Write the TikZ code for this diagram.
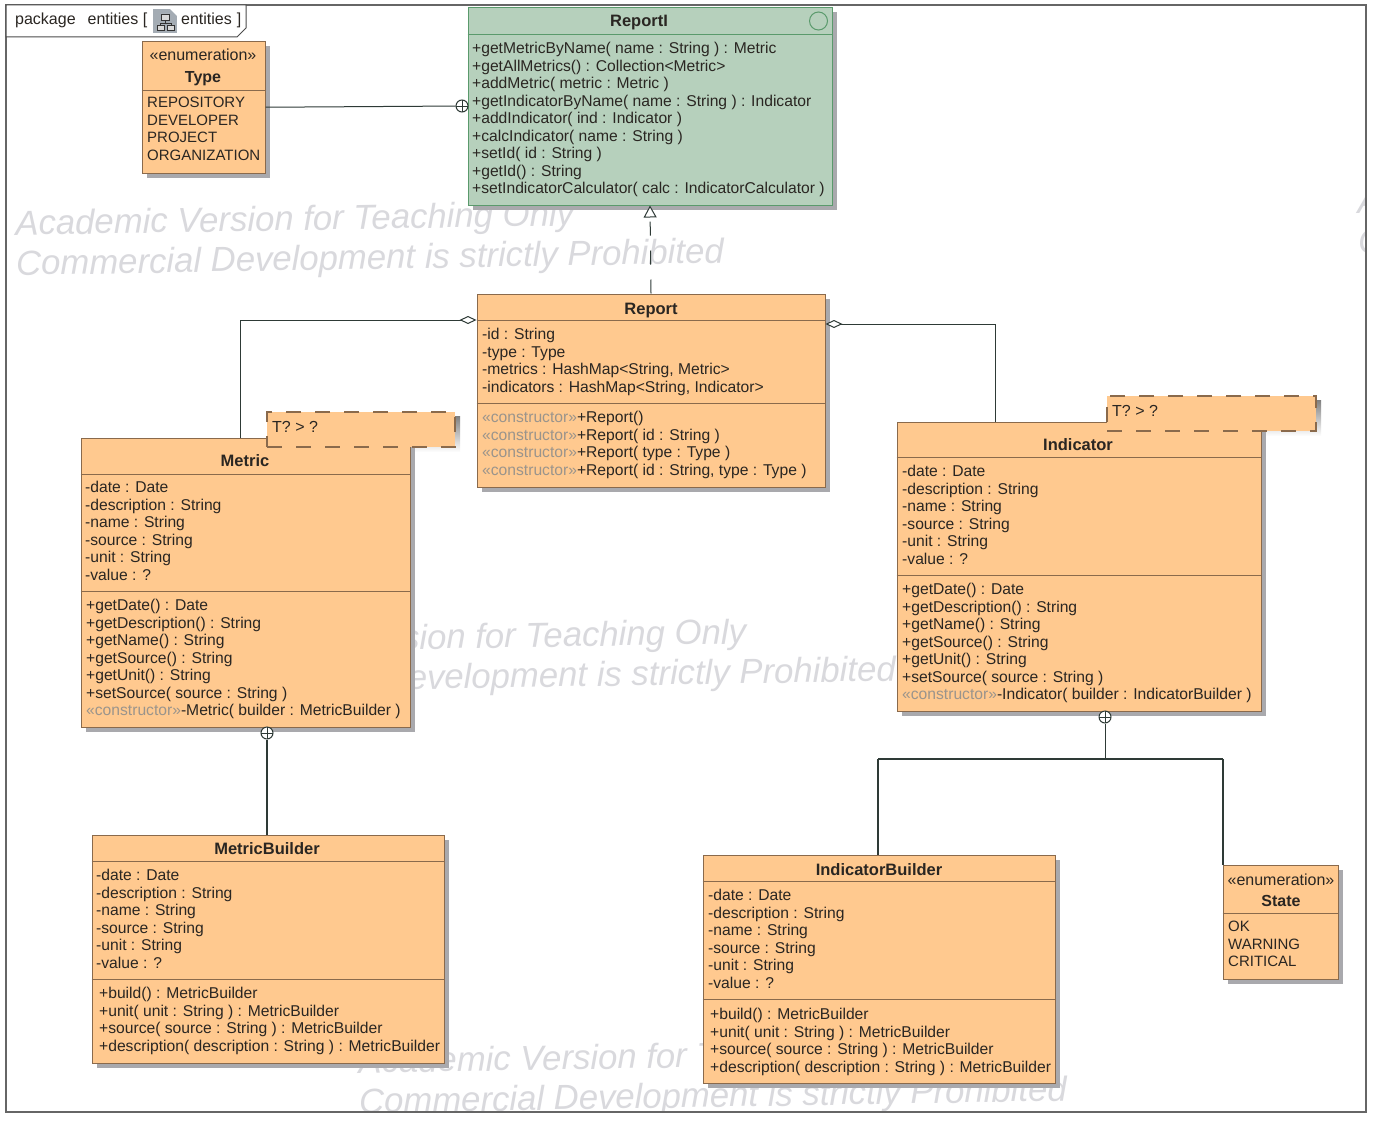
\documentclass[tikz,border=0pt]{standalone}
\usepackage{fontspec}
\setmainfont{Liberation Sans}
\usetikzlibrary{arrows.meta,shadows,calc}
\definecolor{boxfill}{HTML}{FFC98F}
\definecolor{boxline}{HTML}{8A6A4C}
\definecolor{greenfill}{HTML}{B6D0BC}
\definecolor{greenline}{HTML}{5A9A6C}
\definecolor{shade}{HTML}{A9A9AD}
\definecolor{wmark}{HTML}{D9D9DD}
\definecolor{ink}{HTML}{2A2622}
\definecolor{ctor}{HTML}{9A948C}
\definecolor{conn}{HTML}{2E3A36}
\definecolor{tile}{HTML}{A4ACB4}
\newcommand{\ct}{{\color{ctor}«constructor»}}
\tikzset{
 umlbox/.style={draw=boxline,line width=1pt,fill=boxfill,inner sep=0pt,
   drop shadow={shadow xshift=4.5pt,shadow yshift=-4.5pt,fill=shade,opacity=1}},
 greenbox/.style={umlbox,draw=greenline,fill=greenfill},
 divider/.style={draw=boxline,line width=.8pt},
 lines/.style={align=left,anchor=north west,inner sep=0pt,text=ink,
   font=\fontsize{15.65}{17.5}\selectfont,execute at begin node={\rule{0pt}{12pt}}},
 enumlines/.style={lines,font=\fontsize{15}{17.5}\selectfont},
 titletext/.style={anchor=base,inner sep=0pt,text=ink,font=\fontsize{16}{17.5}\selectfont},
 classname/.style={titletext,font=\fontsize{16.5}{17.5}\selectfont\bfseries},
 tmpl/.style={draw=boxline,line width=1.2pt,dash pattern=on 15pt off 14pt,fill=boxfill,inner sep=0pt},
 wm/.style={align=left,anchor=north west,inner sep=0pt,rotate=1,text=wmark,
   font=\fontsize{34.7}{40}\selectfont\itshape},
 conline/.style={draw=conn,line width=1pt},
 thickline/.style={draw=conn,line width=2.6pt},
 contain/.style={circle,draw=conn,line width=1pt,fill=white,minimum size=12pt,inner sep=0pt,
   path picture={\draw[conn,line width=.8pt] (path picture bounding box.north)--(path picture bounding box.south)
   (path picture bounding box.west)--(path picture bounding box.east);}},
}
\begin{document}
\begin{tikzpicture}[x=1pt,y=-1pt]
\useasboundingbox (0,0) rectangle (1375,1121);
\fill[white] (0,0) rectangle (1375,1121);
% watermarks
\begin{scope}
\clip (6,5) rectangle (1366,1112);
\node[wm] (wma) at (15,210) {Academic Version for Teaching Only\\Commercial Development is strictly Prohibited};
\node[wm] (wmb) at (187,628) {Academic Version for Teaching Only\\Commercial Development is strictly Prohibited};
\node[wm] (wmc) at (358,1048) {Academic Version for Teaching Only\\Commercial Development is strictly Prohibited};
\node[wm] (wmd) at (1357,188) {Academic Version for Teaching Only\\Commercial Development is strictly Prohibited};
\end{scope}
% frame
\draw[draw=black!60,line width=1.2pt] (6,5) rectangle (1366,1112);
\draw[draw=black!70,fill=white,line width=1pt] (6,5) -- (246,5) -- (246,28) -- (237,37) -- (6,37) -- cycle;
\node[titletext,anchor=base west] (pkga) at (15,25) {package\hspace{12pt}entities [};
\node[titletext,anchor=base west] (pkgb) at (181,25) {entities\hspace{5pt}]};
% package icon
\fill[tile] (153,9) rectangle (177,33);
\fill[white] (170,9) -- (177,9) -- (177,16) -- cycle;
\draw[black!80,line width=.8pt,fill=black!15] (161,14) rectangle (169,20) (157,25) rectangle (164,30) (167,25) rectangle (174,30);
\draw[black!80,line width=.8pt] (165,20) -- (165,23) (160,25) -- (160,23) -- (171,23) -- (171,25);
% shadows of the template compartments
\fill[shade] (271,416) rectangle (460,452);
\fill[shade] (1111,400) rectangle (1321,436);
% class boxes
\node[umlbox,minimum width=123pt,minimum height=131.5pt] (Type) at (203.5,107.25) {};
\node[greenbox,minimum width=364pt,minimum height=197pt] (ReportI) at (650,106.5) {};
\node[umlbox,minimum width=348pt,minimum height=193pt] (Report) at (651,390.5) {};
\node[umlbox,minimum width=329pt,minimum height=289pt] (Metric) at (245.5,582.5) {};
\node[umlbox,minimum width=364pt,minimum height=289pt] (Indicator) at (1079,566.5) {};
\node[umlbox,minimum width=352pt,minimum height=228pt] (MB) at (268,949) {};
\node[umlbox,minimum width=352pt,minimum height=228pt] (IB) at (879,969) {};
\node[umlbox,minimum width=115pt,minimum height=114pt] (State) at (1280.5,922) {};
\node[tmpl,minimum width=188pt,minimum height=35pt] (tm) at (361,429.5) {};
\node[tmpl,minimum width=209pt,minimum height=35pt] (ti) at (1211.5,413.5) {};
\node[titletext,anchor=base west] (tmt) at (272,432) {T? > ?};
\node[titletext,anchor=base west] (tit) at (1112,416) {T? > ?};
% dividers
\path[divider] (Type.west |- 0,90) -- (Type.east |- 0,90);
\path[draw=greenline,line width=.8pt] (ReportI.west |- 0,34) -- (ReportI.east |- 0,34);
\path[divider] (Report.west |- 0,320) -- (Report.east |- 0,320);
\path[divider] (Report.west |- 0,403) -- (Report.east |- 0,403);
\path[divider] (Metric.west |- 0,474) -- (Metric.east |- 0,474);
\path[divider] (Metric.west |- 0,591) -- (Metric.east |- 0,591);
\path[divider] (Indicator.west |- 0,457) -- (Indicator.east |- 0,457);
\path[divider] (Indicator.west |- 0,575) -- (Indicator.east |- 0,575);
\path[divider] (MB.west |- 0,861) -- (MB.east |- 0,861);
\path[divider] (MB.west |- 0,979) -- (MB.east |- 0,979);
\path[divider] (IB.west |- 0,881) -- (IB.east |- 0,881);
\path[divider] (IB.west |- 0,999) -- (IB.east |- 0,999);
\path[divider] (State.west |- 0,913) -- (State.east |- 0,913);
% titles
\node[titletext] (t1a) at (203,61) {«enumeration»};
\node[classname,font=\fontsize{16}{17.5}\selectfont\bfseries] (t1b) at (203,83) {Type};
\node[classname] (t2) at (639,27) {ReportI};
\node[circle,draw=greenline,line width=1pt,minimum size=18pt,inner sep=0pt] (ricon) at (818.5,21) {};
\node[classname] (t3) at (651,314) {Report};
\node[classname] (t4) at (245,466) {Metric};
\node[classname] (t5) at (1078,450) {Indicator};
\node[classname] (t6) at (267,854) {MetricBuilder};
\node[classname] (t7) at (879,875) {IndicatorBuilder};
\node[titletext] (t8a) at (1281,885) {«enumeration»};
\node[classname,font=\fontsize{16}{17.5}\selectfont\bfseries] (t8b) at (1281,906) {State};
% compartments
\node[enumlines] (a1) at (147,97) {REPOSITORY\\DEVELOPER\\PROJECT\\ORGANIZATION};
\node[lines] (a2) at (472,42) {+getMetricByName( name : String ) : Metric\\+getAllMetrics() : Collection<Metric>\\+addMetric( metric : Metric )\\+getIndicatorByName( name : String ) : Indicator\\+addIndicator( ind : Indicator )\\+calcIndicator( name : String )\\+setId( id : String )\\+getId() : String\\+setIndicatorCalculator( calc : IndicatorCalculator )};
\node[lines] (a3) at (482,328) {-id : String\\-type : Type\\-metrics : HashMap<String, Metric>\\-indicators : HashMap<String, Indicator>};
\node[lines] (o3) at (482,411) {\ct+Report()\\\ct+Report( id : String )\\\ct+Report( type : Type )\\\ct+Report( id : String, type : Type )};
\node[lines] (a4) at (85,481) {-date : Date\\-description : String\\-name : String\\-source : String\\-unit : String\\-value : ?};
\node[lines] (o4) at (86,599) {+getDate() : Date\\+getDescription() : String\\+getName() : String\\+getSource() : String\\+getUnit() : String\\+setSource( source : String )\\\ct-Metric( builder : MetricBuilder )};
\node[lines] (a5) at (902,465) {-date : Date\\-description : String\\-name : String\\-source : String\\-unit : String\\-value : ?};
\node[lines] (o5) at (902,583) {+getDate() : Date\\+getDescription() : String\\+getName() : String\\+getSource() : String\\+getUnit() : String\\+setSource( source : String )\\\ct-Indicator( builder : IndicatorBuilder )};
\node[lines] (a6) at (96,869) {-date : Date\\-description : String\\-name : String\\-source : String\\-unit : String\\-value : ?};
\node[lines] (o6) at (99,987) {+build() : MetricBuilder\\+unit( unit : String ) : MetricBuilder\\+source( source : String ) : MetricBuilder\\+description( description : String ) : MetricBuilder};
\node[lines] (a7) at (708,889) {-date : Date\\-description : String\\-name : String\\-source : String\\-unit : String\\-value : ?};
\node[lines] (o7) at (710,1008) {+build() : MetricBuilder\\+unit( unit : String ) : MetricBuilder\\+source( source : String ) : MetricBuilder\\+description( description : String ) : MetricBuilder};
\node[enumlines] (a8) at (1228,921) {OK\\WARNING\\CRITICAL};
% connectors
\node[contain] (c1) at (462,106) {};
\node[contain] (c2) at (267,733) {};
\node[contain] (c3) at (1105,717) {};
\coordinate (m1) at (240,320);
\coordinate (i1) at (995,324);
\coordinate (j) at (1105,759);
\coordinate (k1) at (878,759);
\coordinate (k2) at (1223,759);
\path[conline] (Type.east) -- (c1);
\path[conline,dash pattern=on 14pt off 15pt,-{Triangle[open,length=12pt,width=13pt,fill=white]}] (Report.north) -- (ReportI.south);
\path[conline,-{Diamond[open,length=17pt,width=8pt,fill=white]}] (m1 |- Metric.north) -- (m1) -- (Report.west |- m1);
\path[conline,{Diamond[open,length=17pt,width=8pt,fill=white]}-] (Report.east |- i1) -- (i1) -- (i1 |- Indicator.north);
\path[thickline] (c2) -- (c2 |- MB.north);
\path[conline] (c3) -- (j);
\path[draw=conn,line width=1.5pt] (k1) -- (k2);
\path[thickline] (k1) -- (k1 |- IB.north);
\path[thickline] (k2) -- (k2 |- State.north);
\end{tikzpicture}
\end{document}
